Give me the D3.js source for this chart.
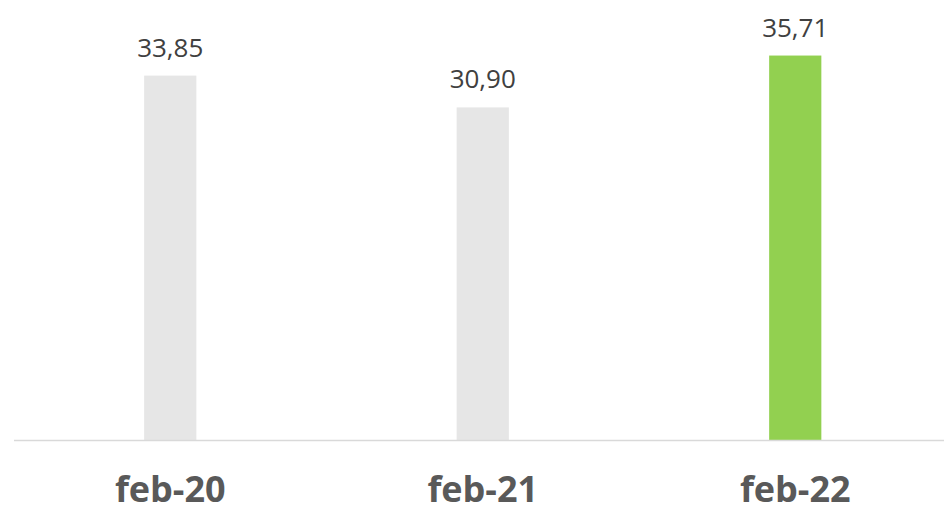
<!DOCTYPE html>
<meta charset="utf-8">
<style>
  body { margin: 0; background: #fff; }
  .value-label { font-family: "Open Sans", sans-serif; font-size: 26px; fill: #404040; }
  .cat-label { font-family: "Open Sans", sans-serif; font-size: 36px; font-weight: bold; fill: #595959; }
</style>
<svg width="944" height="512"></svg>
<script src="https://cdn.jsdelivr.net/npm/d3@7"></script>
<script>
  // data
  var categories = ["feb-20", "feb-21", "feb-22"];
  var values = [33.85, 30.90, 35.71];
  var barColors = ["#e6e6e6", "#e6e6e6", "#92d050"];

  var svg = d3.select("svg"),
      baseY = 440.5;

  var x = d3.scaleBand()
      .domain(categories)
      .range([14, 951.5])
      .paddingInner(0.833)
      .paddingOuter(0.4165);

  var y = d3.scaleLinear()
      .domain([0, 40])
      .range([baseY, baseY - 431.2]);

  var fmt = function(v) { return d3.format(".2f")(v).replace(".", ","); };

  svg.append("g")
    .selectAll("rect")
    .data(values)
    .enter().append("rect")
      .attr("x", function(d, i) { return x(categories[i]); })
      .attr("y", function(d) { return y(d); })
      .attr("width", x.bandwidth())
      .attr("height", function(d) { return y(0) - y(d); })
      .attr("fill", function(d, i) { return barColors[i]; });

  // baseline
  svg.append("line")
      .attr("x1", 14).attr("x2", 944)
      .attr("y1", baseY).attr("y2", baseY)
      .attr("stroke", "#d9d9d9")
      .attr("stroke-width", 1.5);

  svg.append("g")
    .selectAll("text")
    .data(values)
    .enter().append("text")
      .attr("class", "value-label")
      .attr("text-anchor", "middle")
      .attr("x", function(d, i) { return x(categories[i]) + x.bandwidth() / 2; })
      .attr("y", function(d) { return y(d) - 19; })
      .text(fmt);

  svg.append("g")
    .selectAll("text")
    .data(categories)
    .enter().append("text")
      .attr("class", "cat-label")
      .attr("text-anchor", "middle")
      .attr("x", function(d) { return x(d) + x.bandwidth() / 2; })
      .attr("y", 502)
      .text(function(d) { return d; });
</script>
